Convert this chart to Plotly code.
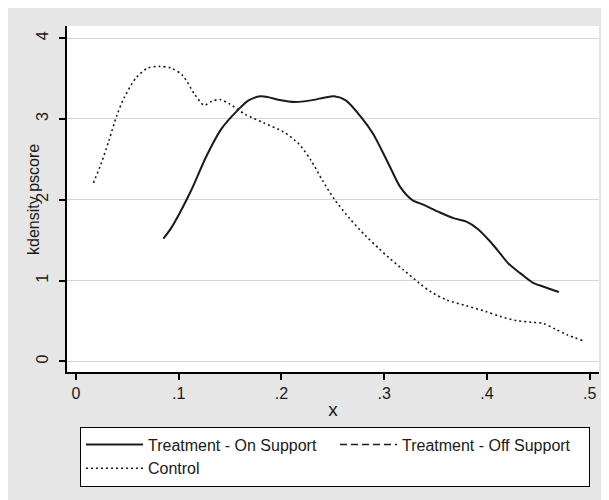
import plotly.graph_objects as go

# Treatment - On Support (solid)
x_on = [0.085, 0.0926, 0.1115, 0.1266, 0.1417, 0.1568, 0.168, 0.1795, 0.187, 0.198,
        0.2135, 0.2286, 0.2437, 0.2513, 0.2626, 0.2777, 0.289, 0.304, 0.3155, 0.327,
        0.338, 0.353, 0.368, 0.380, 0.391, 0.402, 0.410, 0.421, 0.4326, 0.444, 0.455, 0.470]
y_on = [1.52, 1.65, 2.10, 2.53, 2.88, 3.10, 3.23, 3.28, 3.27, 3.235,
        3.21, 3.23, 3.27, 3.28, 3.23, 3.02, 2.82, 2.45, 2.16, 2.00,
        1.94, 1.85, 1.77, 1.73, 1.64, 1.50, 1.38, 1.21, 1.09, 0.98, 0.925, 0.86]

# Treatment - Off Support (no observations)
x_off = [None]
y_off = [None]

# Control (dotted)
x_ctrl = [0.017, 0.0246, 0.032, 0.0397, 0.0472, 0.0586, 0.070, 0.0812, 0.0926, 0.104,
          0.1153, 0.1247, 0.1323, 0.140, 0.149, 0.1644, 0.183, 0.202, 0.217, 0.2286,
          0.2399, 0.2513, 0.2663, 0.2815, 0.2946, 0.304, 0.319, 0.334, 0.3457, 0.361,
          0.3797, 0.3985, 0.4137, 0.4288, 0.4439, 0.455, 0.4666, 0.478, 0.493]
y_ctrl = [2.21, 2.45, 2.73, 3.04, 3.27, 3.51, 3.63, 3.65, 3.63, 3.535,
          3.31, 3.17, 3.22, 3.24, 3.19, 3.06, 2.95, 2.84, 2.69, 2.49,
          2.24, 2.01, 1.77, 1.56, 1.40, 1.29, 1.13, 0.97, 0.86, 0.76,
          0.69, 0.62, 0.555, 0.505, 0.485, 0.47, 0.40, 0.33, 0.26]

x_tickvals = [0, 0.1, 0.2, 0.3, 0.4, 0.5]
x_ticktext = ["0", ".1", ".2", ".3", ".4", ".5"]
y_tickvals = [0, 1, 2, 3, 4]
y_ticktext = ["0", "1", "2", "3", "4"]
y_title = "kdensity pscore"

FONT = "Liberation Sans, Arial, sans-serif"
INK = "#1a1a1a"

fig = go.Figure()
fig.add_trace(go.Scatter(x=x_on, y=y_on, mode="lines", name="Treatment - On Support",
                         line=dict(color=INK, width=2, shape="spline", smoothing=0.8)))
fig.add_trace(go.Scatter(x=x_off, y=y_off, mode="lines", name="Treatment - Off Support",
                         line=dict(color=INK, width=1.5, dash="7px,4px")))
fig.add_trace(go.Scatter(x=x_ctrl, y=y_ctrl, mode="lines", name="Control",
                         line=dict(color=INK, width=1.6, dash="2px,3px", shape="spline", smoothing=0.8)))

fig.update_layout(
    width=609, height=500,
    margin=dict(l=59, r=18, t=18, b=136),
    paper_bgcolor="#e6e6e6",
    plot_bgcolor="white",
    font=dict(family=FONT, size=16, color=INK),
    showlegend=True,
    legend=dict(
        orientation="h",
        xref="container", yref="container",
        x=0.1182, xanchor="left",
        y=0.163, yanchor="top",
        bgcolor="white", bordercolor="black", borderwidth=1,
        itemwidth=57, entrywidth=182,
        font=dict(family=FONT, size=16, color=INK),
        traceorder="normal",
    ),
    annotations=[
        dict(text=y_title, xref="paper", yref="paper", x=-0.064, y=0.5,
             xanchor="center", yanchor="middle", textangle=-90, showarrow=False,
             font=dict(family=FONT, size=16, color=INK)),
    ],
)

fig.update_xaxes(
    range=[-0.0087, 0.509],
    tickvals=x_tickvals, ticktext=x_ticktext,
    ticks="outside", ticklen=6, tickwidth=1.5, tickcolor="black",
    ticklabelstandoff=0,
    showline=True, linecolor="black", linewidth=1.5,
    showgrid=False, zeroline=False, automargin=False,
    title=dict(text="x", standoff=2),
)
fig.update_yaxes(
    range=[-0.13, 4.15],
    tickvals=y_tickvals, ticktext=y_ticktext, tickangle=-90,
    ticks="outside", ticklen=6, tickwidth=1.5, tickcolor="black",
    ticklabelstandoff=5,
    showline=True, linecolor="black", linewidth=1.5,
    showgrid=True, gridcolor="#d4d4d4", gridwidth=1, zeroline=False, automargin=False,
)

fig.write_html("out.html")
